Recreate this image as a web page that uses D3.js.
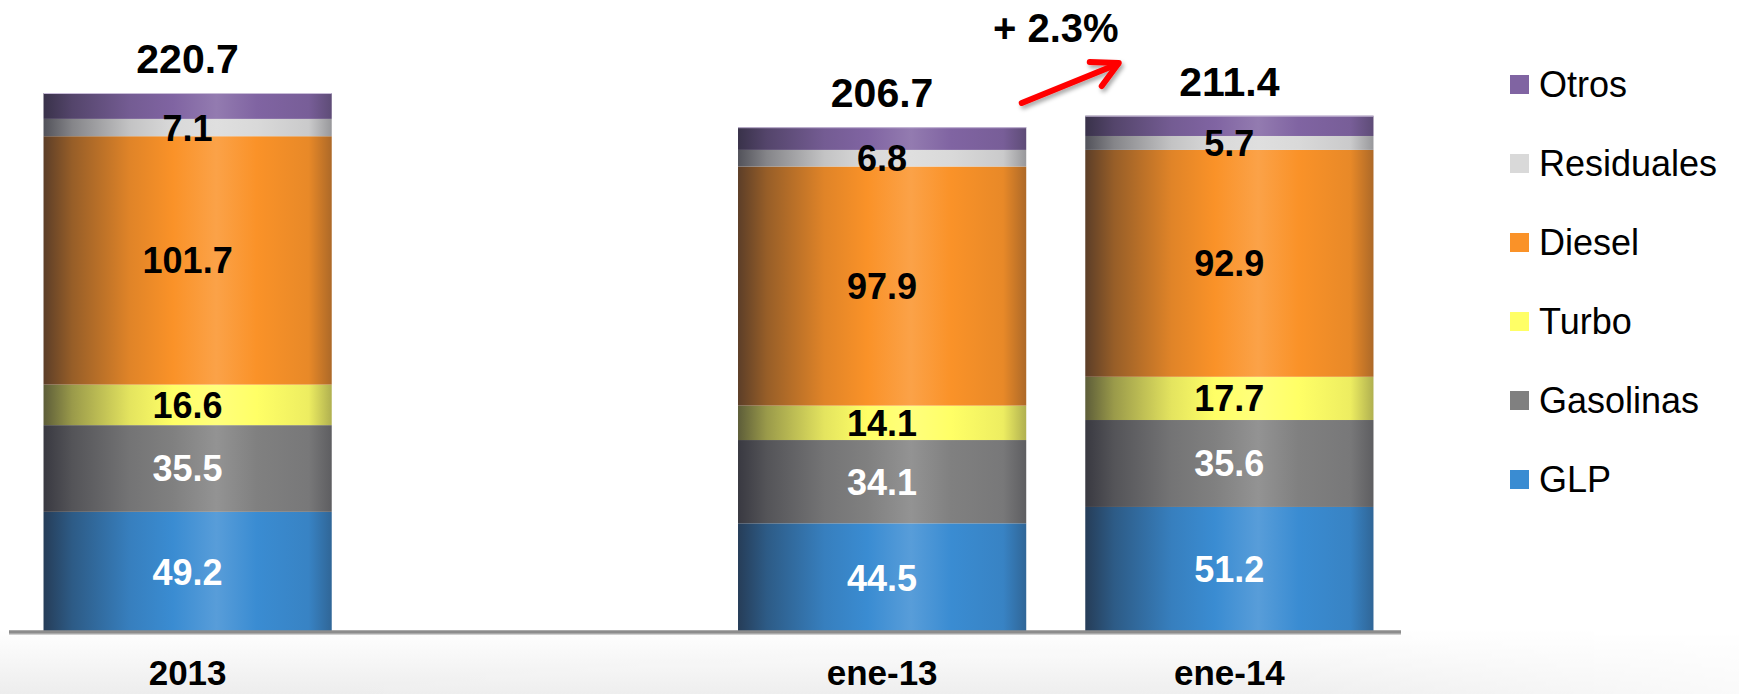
<!DOCTYPE html>
<html>
<head>
<meta charset="utf-8">
<script src="https://cdn.jsdelivr.net/npm/d3@7"></script>
<style>
  html, body { margin: 0; padding: 0; background: #fff; }
  svg { display: block; font-family: "Liberation Sans", Arial, sans-serif; }
</style>
</head>
<body>
<svg id="chart" width="1739" height="694"></svg>
<script>
// ---- data ----
const categories = ["2013", "ene-13", "ene-14"];
const slots = ["2013", "gap", "ene-13", "ene-14"];
const seriesNames = ["GLP", "Gasolinas", "Turbo", "Diesel", "Residuales", "Otros"];
const glp        = [49.2, 44.5, 51.2];
const gasolinas  = [35.5, 34.1, 35.6];
const turbo      = [16.6, 14.1, 17.7];
const diesel     = [101.7, 97.9, 92.9];
const residuales = [7.1, 6.8, 5.7];
const otros      = [10.6, 9.3, 8.3];
const totals     = [220.7, 206.7, 211.4];
const changeLabel = "+ 2.3%";
const seriesColors = ["#3A8CD2", "#808080", "#FFFF66", "#FA9228", "#D9D9D9", "#8064A2"];
const labelColors  = ["#fff", "#fff", "#000", "#000", "#000", null];

const seriesValues = [glp, gasolinas, turbo, diesel, residuales, otros];
const rows = categories.map((c, i) => {
  const r = { cat: c };
  seriesNames.forEach((s, j) => r[s] = seriesValues[j][i]);
  return r;
});

const svg = d3.select("#chart");
const defs = svg.append("defs");

// bottom soft shading
const bg = defs.append("linearGradient").attr("id", "bgGrad").attr("x1", 0).attr("y1", 0).attr("x2", 0).attr("y2", 1);
bg.append("stop").attr("offset", 0).attr("stop-color", "#ffffff");
bg.append("stop").attr("offset", 1).attr("stop-color", "#ededed");
const bgH = defs.append("linearGradient").attr("id", "bgMaskGrad").attr("x1", 0).attr("y1", 0).attr("x2", 1).attr("y2", 0);
bgH.append("stop").attr("offset", 0).attr("stop-color", "#fff").attr("stop-opacity", 1);
bgH.append("stop").attr("offset", 0.75).attr("stop-color", "#fff").attr("stop-opacity", 0.9);
bgH.append("stop").attr("offset", 1).attr("stop-color", "#fff").attr("stop-opacity", 0.3);
const mask = defs.append("mask").attr("id", "bgMask");
mask.append("rect").attr("x", 0).attr("y", 630).attr("width", 1739).attr("height", 64).attr("fill", "url(#bgMaskGrad)");
svg.append("rect").attr("x", 0).attr("y", 630).attr("width", 1739).attr("height", 64)
  .attr("fill", "url(#bgGrad)").attr("mask", "url(#bgMask)");

// cylinder-like gradients
seriesNames.forEach((s, j) => {
  const base = seriesColors[j];
  const dk = t => d3.interpolateRgb(base, "#1e1e28")(t);
  const hi = d3.interpolateRgb(base, "#ffffff")(0.15);
  const g = defs.append("linearGradient").attr("id", "g" + j).attr("x1", 0).attr("y1", 0).attr("x2", 1).attr("y2", 0);
  [[0, dk(0.72)], [0.1, dk(0.45)], [0.3, dk(0.12)], [0.45, base], [0.6, hi], [0.74, base], [0.92, dk(0.08)], [1, dk(0.35)]]
    .forEach(([o, c]) => g.append("stop").attr("offset", o).attr("stop-color", c));
});

// arrow shadow filter
const f = defs.append("filter").attr("id", "shadow").attr("x", "-20%").attr("y", "-20%").attr("width", "140%").attr("height", "160%");
f.append("feDropShadow").attr("dx", 2).attr("dy", 3).attr("stdDeviation", 2).attr("flood-color", "#000").attr("flood-opacity", 0.35);

// scales
const x = d3.scaleBand().domain(slots).range([14, 1403]).paddingInner(0.17).paddingOuter(0.085);
const y = d3.scaleLinear().domain([0, 220.7]).range([632, 93]);

const stack = d3.stack().keys(seriesNames);
const layers = stack(rows);

const lg = svg.append("g");
layers.forEach((layer, j) => {
  lg.selectAll(null).data(layer).enter().append("rect")
    .attr("x", d => x(d.data.cat))
    .attr("width", x.bandwidth())
    .attr("y", d => y(d[1]))
    .attr("height", d => y(d[0]) - y(d[1]))
    .attr("fill", "url(#g" + j + ")");
});

// thin top edge
svg.selectAll(null).data(rows).enter().append("line")
  .attr("x1", d => x(d.cat)).attr("x2", d => x(d.cat) + x.bandwidth())
  .attr("y1", (d, i) => y(totals[i]) + 0.5).attr("y2", (d, i) => y(totals[i]) + 0.5)
  .attr("stroke", "#c8bcd8").attr("stroke-width", 1);

// segment labels
layers.forEach((layer, j) => {
  if (!labelColors[j]) return;
  svg.selectAll(null).data(layer).enter().append("text")
    .attr("x", d => x(d.data.cat) + x.bandwidth() / 2)
    .attr("y", d => (y(d[0]) + y(d[1])) / 2)
    .attr("dy", "0.36em")
    .attr("text-anchor", "middle")
    .attr("font-size", 36).attr("font-weight", "bold")
    .attr("fill", labelColors[j])
    .text(d => d.data[seriesNames[j]].toFixed(1));
});

// totals
svg.selectAll(null).data(rows).enter().append("text")
  .attr("x", d => x(d.cat) + x.bandwidth() / 2)
  .attr("y", (d, i) => y(totals[i]) - 20)
  .attr("text-anchor", "middle")
  .attr("font-size", 41).attr("font-weight", "bold").attr("fill", "#000")
  .text((d, i) => totals[i].toFixed(1));

// baseline axis
const axis = d3.axisBottom(x).tickSize(0).tickFormat(d => categories.includes(d) ? d : "");
const ag = svg.append("g").attr("transform", "translate(0,632)").call(axis);
ag.select(".domain").remove();
ag.selectAll("text").attr("font-size", 35).attr("font-weight", "bold").attr("fill", "#000")
  .attr("font-family", "Liberation Sans, Arial, sans-serif").attr("dy", null).attr("y", 53);
svg.append("line").attr("x1", 9).attr("x2", 1401).attr("y1", 632).attr("y2", 632)
  .attr("stroke", "#8c8c8c").attr("stroke-width", 3.5);
svg.append("line").attr("x1", 9).attr("x2", 1401).attr("y1", 634.5).attr("y2", 634.5)
  .attr("stroke", "#d0d0d0").attr("stroke-width", 1);

// change annotation
const cx1 = x("ene-13") + x.bandwidth(), cx2 = x("ene-14");
const mid = (cx1 + cx2) / 2;
svg.append("text").attr("x", mid).attr("y", 42).attr("text-anchor", "middle")
  .attr("font-size", 40).attr("font-weight", "bold").attr("fill", "#000").text(changeLabel);
const ar = svg.append("g").attr("filter", "url(#shadow)")
  .attr("stroke", "#ff0000").attr("stroke-width", 6).attr("stroke-linecap", "round").attr("fill", "none");
ar.append("line").attr("x1", mid - 34).attr("y1", 103).attr("x2", mid + 62).attr("y2", 64);
ar.append("path").attr("stroke-linejoin", "round")
  .attr("d", `M${mid + 34},${62} L${mid + 63},${63} L${mid + 46},${86}`);

// legend
const legendOrder = seriesNames.slice().reverse();
const leg = svg.append("g").attr("transform", "translate(1510,75)");
legendOrder.forEach((s, i) => {
  const j = seriesNames.indexOf(s);
  const g = leg.append("g").attr("transform", `translate(0,${i * 79})`);
  g.append("rect").attr("width", 19).attr("height", 19).attr("fill", seriesColors[j]);
  g.append("text").attr("x", 29).attr("y", 9.5).attr("dy", "0.36em")
    .attr("font-size", 36).attr("fill", "#000").text(s);
});
</script>
</body>
</html>
